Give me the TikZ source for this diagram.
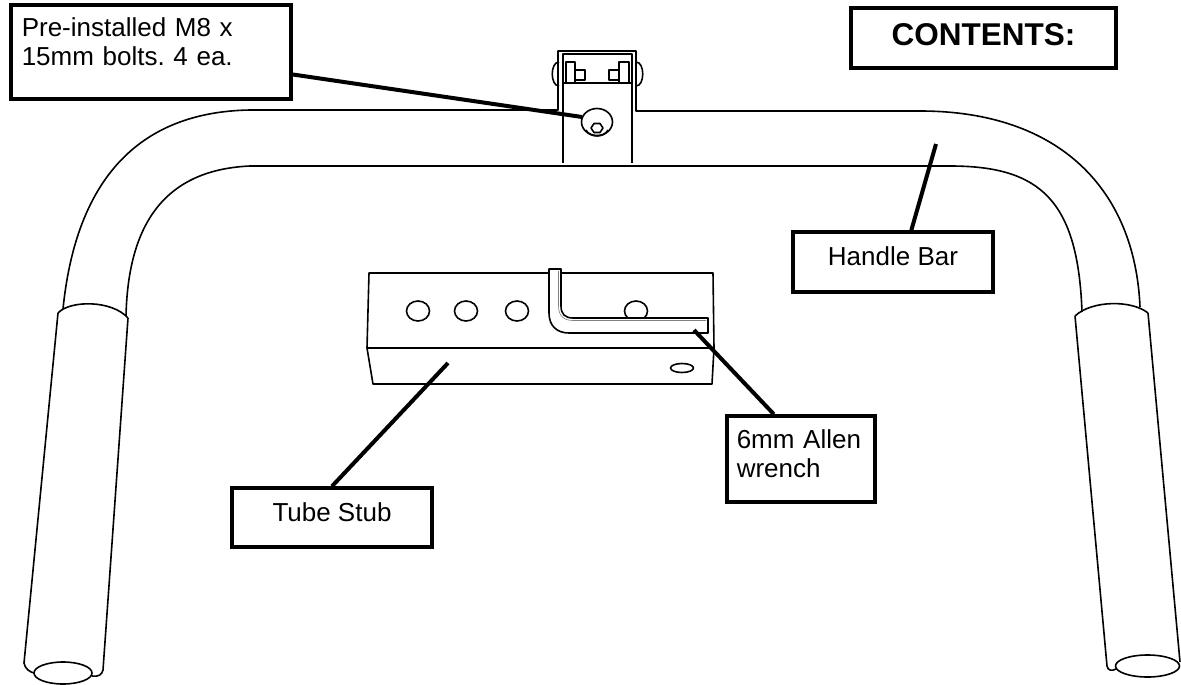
\documentclass[tikz,border=0pt]{standalone}
\usepackage{fontspec}
\setmainfont{Liberation Sans}
\frenchspacing
\begin{document}
\begin{tikzpicture}[x=1pt,y=-1pt,
    part/.style={line width=1.6pt,line join=round},
    callout/.style={line width=4pt},
    labelbox/.style={draw,fill=white,line width=3.5pt,inner ysep=0pt,
      font=\fontsize{26}{29}\selectfont}]
  \useasboundingbox (0,0) rectangle (1181,685);
  % handle bar
  \draw[part] (63,309) .. controls (75,190) and (130,112) .. (250,110)
    -- (558,110) -- (558,51) -- (636,51) -- (636,111) -- (920,111)
    .. controls (1060,111) and (1135,190) .. (1140,307);
  \draw[part] (126,316) .. controls (128,230) and (160,170) .. (250,166)
    -- (950,166) .. controls (1040,166) and (1078,200) .. (1082,312);
  \draw[part] (563,163) -- (563,54) -- (632,54) -- (632,163);
  \draw[part] (563,83) -- (632,83);
  \draw[part] (559,62) .. controls (550,62) and (550,86) .. (559,86);
  \draw[part] (636,62) .. controls (645,62) and (645,86) .. (636,86);
  \draw[part] (566,62) rectangle (575,83) (575,70) rectangle (585,80);
  \draw[part] (619,62) rectangle (629,83) (609,70) rectangle (619,80);
  \draw[part] (597,122) ellipse [x radius=15.5,y radius=13.5];
  \draw[part] (591,128) -- (594,123.5) -- (600,123.5) -- (603,128)
    -- (600,132.5) -- (594,132.5) -- cycle;
  \draw[part] (586,130) .. controls (590,138) and (604,138) .. (608,130);
  % grips
  \draw[part] (58,313) .. controls (70,300) and (112,300) .. (128,318);
  \draw[part] (58,313) -- (24,663) .. controls (25,669) and (30,672) .. (34,673);
  \draw[part] (128,318) -- (103,670) .. controls (102,675) and (98,677) .. (92,676);
  \draw[part] (63,673) ellipse [x radius=29,y radius=11];
  \draw[part] (1075,316) .. controls (1092,300) and (1132,300) .. (1148,313);
  \draw[part] (1075,316) -- (1107,666) .. controls (1108,671) and (1112,671) .. (1116,669);
  \draw[part] (1148,313) -- (1180,662);
  \draw[part] (1147.5,666) ellipse [x radius=32,y radius=11];
  % tube stub
  \draw[part] (369,273) -- (713,273) -- (714,348) -- (712,384) -- (373,384)
    -- (367,348) -- cycle;
  \draw[part] (367,348) -- (714,348);
  \foreach \x in {418,466,517,636}
    \draw[part] (\x,311) ellipse [x radius=11.5,y radius=10];
  \draw[part] (682,368) ellipse [x radius=11.5,y radius=4.5];
  % allen wrench
  \draw[part,fill=white] (549,269) -- (561,269) -- (561,306)
    .. controls (561,314) and (565,318) .. (573,318) -- (708,318) -- (708,333)
    -- (569,333) .. controls (557,333) and (549,326) .. (549,313) -- cycle;
  \draw[gray,line width=0.6pt] (558.5,271) -- (558.5,306)
    .. controls (558.5,316) and (564,320.5) .. (573,320.5) -- (706,320.5);

  \draw
    (9,37) node[labelbox,anchor=base west,align=left,text width=258pt,
      inner xsep=11pt,text height=32pt,text depth=62pt] (bolts)
      {Pre-installed M8 x\\15mm bolts. 4 ea.}
    (983.5,46) node[labelbox,anchor=base,minimum width=265pt,text height=38pt,
      text depth=22pt,font=\fontsize{31.5}{36}\selectfont\bfseries] (contents)
      {CONTENTS:}
    (893,265) node[labelbox,anchor=base,minimum width=200pt,text height=33pt,
      text depth=27pt] (handlebar) {Handle Bar}
    (332,521) node[labelbox,anchor=base,minimum width=200pt,text height=33pt,
      text depth=26pt] (tubestub) {Tube Stub}
    (725,448) node[labelbox,anchor=base west,align=left,text width=128pt,
      inner xsep=10pt,text height=32pt,text depth=54pt] (allen)
      {6mm Allen\\wrench};
  \coordinate (bolthead) at (582,117);
  \coordinate (barpt) at (936,144);
  \coordinate (stubpt) at (448,363);
  \coordinate (wrenchpt) at (694,330);
  \begin{scope}[callout]
    \draw (bolts.-9.3) to (bolthead);
    \draw (handlebar.60) to (barpt);
    \draw (tubestub.north) to (stubpt);
    \draw (allen.121) to (wrenchpt);
  \end{scope}
\end{tikzpicture}
\end{document}
